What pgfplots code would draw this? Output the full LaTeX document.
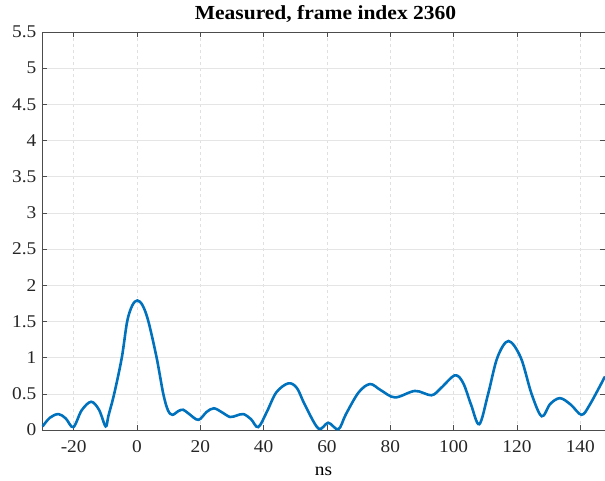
\documentclass[border=0pt]{standalone}
\usepackage{fontspec}
\setmainfont{Liberation Serif}[FakeStretch=1.08]
\usepackage{pgfplots}
\pgfplotsset{compat=1.18}
\definecolor{mblue}{RGB}{0,114,189}
\begin{document}
\begin{tikzpicture}
\begin{axis}[
  name=ax,
  scale only axis,
  width=563bp, height=398bp,
  xmin=-30, xmax=147.8,
  ymin=0, ymax=5.5,
  xtick={-20,0,20,40,60,80,100,120,140},
  ytick={0,0.5,1,1.5,2,2.5,3,3.5,4,4.5,5,5.5},
  yticklabels={0,0.5,1,1.5,2,2.5,3,3.5,4,4.5,5,5.5},
  xticklabels={-20,0,20,40,60,80,100,120,140},
  /pgf/number format/assume math mode=true,
  tick label style={font=\fontsize{18}{18}\selectfont, text=black!85},
  yticklabel style={anchor=east, inner sep=0pt, xshift=-5.5bp},
  xticklabel style={anchor=base, inner sep=0pt, yshift=-22.5bp},
  xlabel={ns},
  xlabel style={font=\fontsize{18}{18}\selectfont, at={(0.5,0)}, anchor=base, inner sep=0pt, yshift=-45bp},
  title={Measured, frame index 2360},
  title style={font=\fontsize{20}{20}\selectfont\bfseries, at={(0.5,1)}, anchor=base, inner sep=0pt, yshift=7bp, xshift=2bp},
  axis line style={black!70, line width=0.6pt},
  tick style={black!70, line width=0.6pt},
  major tick length=5pt,
  tick align=inside,
  xmajorgrids, ymajorgrids,
  x grid style={black!12, dashed, line width=0.5pt},
  y grid style={black!10, line width=0.5pt},
  clip=true,
]
\addplot[mblue, line width=2.6pt, smooth, tension=0.55] coordinates {
(-29.8,0.05) (-27.5,0.17) (-24.8,0.22) (-22.5,0.16) (-20.1,0.04)
(-17.5,0.27) (-14.5,0.39) (-12,0.28) (-9.9,0.05)
(-9,0.2) (-7.2,0.5) (-4.8,1.0) (-3.1,1.5) (-1.5,1.72) (0.1,1.79) (1.8,1.72)
(3.6,1.5) (6.2,1.0) (8.3,0.5) (9.8,0.27) (11.2,0.21) (13,0.26) (14.6,0.28) (16.5,0.22)
(19.4,0.14) (22,0.25) (24.3,0.30) (27,0.24) (29.4,0.18) (31.5,0.2) (33.6,0.22)
(36,0.15) (38.3,0.04) (41,0.25) (44,0.52) (47.8,0.645) (50.5,0.58)
(53,0.35) (57.3,0.02) (60.4,0.1) (63.6,0.01) (66,0.22) (70,0.52)
(73.6,0.635) (77,0.55) (81.5,0.45) (87.8,0.54) (93,0.48) (96,0.58)
(100.4,0.755) (103,0.65) (105.5,0.35) (108.1,0.08) (110.9,0.5) (113.8,1.0)
(117.3,1.23) (121.2,1.0) (124.6,0.5) (127.8,0.19) (130.5,0.36)
(133.6,0.44) (137,0.35) (140.4,0.21) (143,0.35) (147.8,0.74)
};
\end{axis}
\pgfresetboundingbox
\path[use as bounding box] ([xshift=-42bp,yshift=-51bp]ax.south west) rectangle ([yshift=32bp]ax.north east);
\end{tikzpicture}
\end{document}
